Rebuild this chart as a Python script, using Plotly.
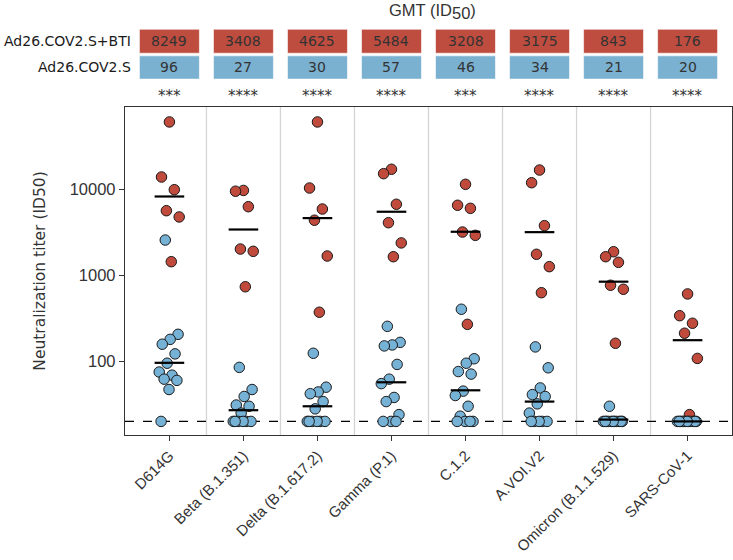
import plotly.graph_objects as go

categories = ["D614G", "Beta (B.1.351)", "Delta (B.1.617.2)", "Gamma (P.1)",
              "C.1.2", "A.VOI.V2", "Omicron (B.1.1.529)", "SARS-CoV-1"]
gmt_bti = [8249, 3408, 4625, 5484, 3208, 3175, 843, 176]
gmt_s = [96, 27, 30, 57, 46, 34, 21, 20]
stars = ["***", "****", "****", "****", "***", "****", "****", "****"]
row_labels = ["Ad26.COV2.S+BTI", "Ad26.COV2.S"]
y_ticks = [100, 1000, 10000]
lod = 20

# Ad26.COV2.S + BTI titers per variant
bti_d614g = [60700, 13900, 9900, 5640, 4770, 1440]
bti_beta = [9700, 9500, 6280, 2020, 1900, 736]
bti_delta = [60700, 10350, 5900, 4370, 1675, 372]
bti_gamma = [17100, 15200, 6700, 4090, 2380, 1645]
bti_c12 = [11430, 6520, 6010, 3185, 2915, 269]
bti_avoiv2 = [16750, 11930, 3780, 1755, 1260, 628]
bti_omicron = [1880, 1645, 1415, 766, 688, 162]
bti_sars = [607, 339, 277, 212, 108, 24]

# Ad26.COV2.S titers per variant
s_d614g = [2570, 206, 180, 158, 122, 95, 75, 69, 62, 60, 47, 20]
s_beta = [85, 47, 39, 31, 30, 25, 20, 20, 20, 20, 20, 20]
s_delta = [124, 50, 44, 42, 34, 28, 20, 20, 20, 20, 20, 20]
s_gamma = [255, 166, 155, 151, 92, 62, 55, 38, 34, 24, 20, 20, 20]
s_c12 = [403, 107, 95, 76, 71, 45, 40, 30, 23, 20, 20, 20, 20]
s_avoiv2 = [147, 84, 49, 41, 39, 32, 25, 20, 20, 20, 20, 20]
s_omicron = [30, 20, 20, 20, 20, 20, 20, 20, 20, 20, 20, 20]
s_sars = [20, 20, 20, 20, 20, 20, 20, 20, 20, 20, 20, 20]

bti_groups = [bti_d614g, bti_beta, bti_delta, bti_gamma, bti_c12, bti_avoiv2, bti_omicron, bti_sars]
s_groups = [s_d614g, s_beta, s_delta, s_gamma, s_c12, s_avoiv2, s_omicron, s_sars]

RED = "#C04A3B"
BLUE = "#76B1D6"
BOX_RED = "#BE4C3F"
BOX_BLUE = "#7AB0D0"
TXT = "#333333"


def jitter(k, phase, width=0.28):
    # deterministic golden-ratio spread within the category
    f = (phase + k * 0.6180339887) % 1.0
    return (f - 0.5) * width


def positions(groups, phase):
    xs, ys = [], []
    for i, vals in enumerate(groups):
        for k, v in enumerate(vals):
            xs.append(i + jitter(k, phase))
            ys.append(v)
    return xs, ys


fig = go.Figure()

xr, yr = positions(bti_groups, 0.5)
xb, yb = positions(s_groups, 0.3)

fig.add_trace(go.Scatter(x=xr, y=yr, mode="markers",
                         marker=dict(size=10.5, color=RED, line=dict(color="#1a1a1a", width=1)),
                         showlegend=False, hoverinfo="y"))
fig.add_trace(go.Scatter(x=xb, y=yb, mode="markers",
                         marker=dict(size=10.5, color=BLUE, line=dict(color="#1a1a1a", width=1)),
                         showlegend=False, hoverinfo="y"))

# GMT bars
for gm in (gmt_bti, gmt_s):
    lx, ly = [], []
    for i, g in enumerate(gm):
        lx += [i - 0.2, i + 0.2, None]
        ly += [g, g, None]
    fig.add_trace(go.Scatter(x=lx, y=ly, mode="lines", line=dict(color="black", width=2.2),
                             showlegend=False, hoverinfo="skip"))

shapes = []
# category separators
for i in range(len(categories) - 1):
    shapes.append(dict(type="line", xref="x", yref="paper", x0=i + 0.5, x1=i + 0.5, y0=0, y1=1,
                       line=dict(color="#D4D4D4", width=1.3), layer="below"))
# limit of detection
shapes.append(dict(type="line", xref="paper", yref="y", x0=0, x1=1, y0=lod, y1=lod,
                   line=dict(color="black", width=1.2, dash="dash"), layer="below"))

annotations = []
# GMT table
box_rows = [(gmt_bti, BOX_RED, 1.164, 1.237), (gmt_s, BOX_BLUE, 1.085, 1.156)]
for vals, col, y0, y1 in box_rows:
    for i, v in enumerate(vals):
        shapes.append(dict(type="rect", xref="x", yref="paper", x0=i - 0.405, x1=i + 0.405,
                           y0=y0, y1=y1, fillcolor=col, line=dict(color="rgba(255,255,255,0.6)", width=1)))
        annotations.append(dict(x=i, y=(y0 + y1) / 2, xref="x", yref="paper", text=str(v),
                                showarrow=False, font=dict(family="DejaVu Sans", size=14, color=TXT),
                                xanchor="center", yanchor="middle"))
for (vals, col, y0, y1), lab in zip(box_rows, row_labels):
    annotations.append(dict(x=0.013, y=(y0 + y1) / 2, xref="paper", yref="paper", text=lab,
                            showarrow=False, font=dict(family="DejaVu Sans", size=14, color="#1a1a1a"),
                            xanchor="right", yanchor="middle"))
for i, s in enumerate(stars):
    annotations.append(dict(x=i, y=1.035, xref="x", yref="paper", text=s, showarrow=False,
                            font=dict(family="DejaVu Sans", size=15, color=TXT),
                            xanchor="center", yanchor="middle"))
annotations.append(dict(x=0.506, y=1.29, xref="paper", yref="paper",
                        text="GMT (ID<sub><span style=\"font-size:16.5px\">50</span></sub>)",
                        showarrow=False,
                        font=dict(family="Liberation Sans", size=16.5, color=TXT),
                        xanchor="center", yanchor="middle"))
annotations.append(dict(x=-0.14, y=0.498, xref="paper", yref="paper",
                        text="Neutralization titer (ID50)", textangle=-90, showarrow=False,
                        font=dict(family="DejaVu Sans", size=15.5, color=TXT),
                        xanchor="center", yanchor="middle"))

fig.update_layout(
    width=733, height=560,
    margin=dict(l=125, r=1, t=107, b=125),
    plot_bgcolor="white", paper_bgcolor="white",
    shapes=shapes, annotations=annotations,
    xaxis=dict(tickmode="array", tickvals=list(range(len(categories))), ticktext=categories,
               range=[-0.6, len(categories) - 0.4], tickangle=-45,
               showgrid=False, zeroline=False, showline=True, mirror=True,
               linecolor="#333333", linewidth=1.3, ticks="outside", ticklen=5,
               tickcolor="#333333", tickwidth=1.3,
               tickfont=dict(family="Liberation Sans", size=15, color=TXT)),
    yaxis=dict(type="log", range=[1.143, 4.957], tickmode="array", tickvals=y_ticks,
               ticktext=[str(t) for t in y_ticks],
               showgrid=False, zeroline=False, showline=True, mirror=True,
               linecolor="#333333", linewidth=1.3, ticks="outside", ticklen=5,
               tickcolor="#333333", tickwidth=1.3,
               tickfont=dict(family="Liberation Sans", size=16.5, color=TXT)),
)

fig.write_html("out.html", config={"displayModeBar": False},
               post_script="document.body.style.margin='0';document.body.style.overflow='hidden';")
